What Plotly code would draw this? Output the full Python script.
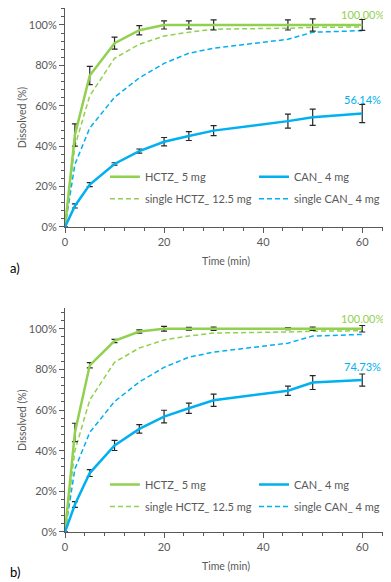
import plotly.graph_objects as go

# sampling times (min)
time = [0, 2, 5, 10, 15, 20, 25, 30, 45, 50, 60]

# panel a)
hctz_a = [0, 45.5, 75, 91, 97.4, 100, 100, 100, 100, 100, 100]
hctz_a_err = [0, 5.5, 4.5, 3, 2.3, 2, 2, 2.5, 2.5, 3, 2.7]
can_a = [0, 10.4, 21, 31.2, 37.6, 42.2, 45, 47.7, 52.4, 54.3, 56.14]
can_a_err = [0, 1, 1, 0.6, 1, 2.1, 2.2, 2.5, 3.5, 4, 4.5]

# panel b)
hctz_b = [0, 49, 82, 94, 98.6, 100, 100, 100, 100, 100, 100]
hctz_b_err = [0, 4.5, 1.3, 0.8, 0.8, 1.2, 0.7, 0.8, 0.5, 0.8, 1.6]
can_b = [0, 13.5, 29, 42.6, 50.7, 56.8, 60.9, 64.8, 69.5, 73.5, 74.73]
can_b_err = [0, 1.4, 1.7, 2.5, 2.1, 3.1, 2.5, 3, 2.3, 3.4, 3]

# single-drug reference profiles (same in both panels)
single_hctz = [0, 40, 65, 83.5, 90.5, 94.5, 96.4, 97.9, 98.4, 98.8, 99]
single_can = [0, 31, 49, 64.2, 73.8, 81, 86, 88.5, 92.9, 96.4, 97.2]

names = ['HCTZ_ 5 mg', 'CAN_ 4 mg', 'single HCTZ_ 12.5 mg', 'single CAN_ 4 mg']
y_ticks = [0, 20, 40, 60, 80, 100]
y_ticktext = ['0%', '20%', '40%', '60%', '80%', '100%']
panel_labels = ['a)', 'b)']

GREEN = '#92D050'
BLUE = '#00B0F0'
TXT = '#595959'
FONT = 'Lato'
DASH = '5px,3px'

fig = go.Figure()

# (data..., x axis, y axis, legend for green column, legend for blue column)
panels = [
    (hctz_a, hctz_a_err, can_a, can_a_err, 'x', 'y', 'legend', 'legend3'),
    (hctz_b, hctz_b_err, can_b, can_b_err, 'x2', 'y2', 'legend2', 'legend4'),
]

for hctz, hctz_err, can, can_err, xa, ya, leg_g, leg_b in panels:
    err_style = dict(type='data', visible=True, color='#262626', thickness=1.2, width=3)
    fig.add_trace(go.Scatter(x=time, y=single_hctz, mode='lines', name=names[2],
                             line=dict(color=GREEN, width=1.5, dash=DASH),
                             xaxis=xa, yaxis=ya, legend=leg_g, legendrank=2, legendgroup='s'))
    fig.add_trace(go.Scatter(x=time, y=single_can, mode='lines', name=names[3],
                             line=dict(color=BLUE, width=1.5, dash=DASH),
                             xaxis=xa, yaxis=ya, legend=leg_b, legendrank=2, legendgroup='s'))
    fig.add_trace(go.Scatter(x=time, y=hctz, mode='lines', name=names[0],
                             line=dict(color=GREEN, width=2.5),
                             error_y=dict(array=hctz_err, **err_style),
                             xaxis=xa, yaxis=ya, legend=leg_g, legendrank=1, legendgroup='m'))
    fig.add_trace(go.Scatter(x=time, y=can, mode='lines', name=names[1],
                             line=dict(color=BLUE, width=2.5),
                             error_y=dict(array=can_err, **err_style),
                             xaxis=xa, yaxis=ya, legend=leg_b, legendrank=1, legendgroup='m'))
    # final values
    fig.add_annotation(x=time[-1], y=hctz[-1], xref=xa, yref=ya,
                       text=f'{hctz[-1]:.2f}%', showarrow=False, yshift=10,
                       font=dict(color=GREEN, size=11, family=FONT))
    fig.add_annotation(x=time[-1], y=can[-1], xref=xa, yref=ya,
                       text=f'{can[-1]:.2f}%', showarrow=False, yshift=14,
                       font=dict(color=BLUE, size=11, family=FONT))

xaxis_style = dict(range=[0, 65], dtick=20, ticks='outside', ticklen=5, tickcolor=TXT,
                   showline=True, linecolor=TXT, linewidth=1, showgrid=False, zeroline=False,
                   minor=dict(dtick=4, ticks='outside', ticklen=3, tickcolor=TXT),
                   tickfont=dict(size=11, color=TXT, family=FONT),
                   title=dict(text='Time (min)', font=dict(size=10.5, color=TXT, family=FONT), standoff=10))
yaxis_style = dict(tickvals=y_ticks, ticktext=y_ticktext,
                   ticks='outside', ticklen=5, tickcolor=TXT,
                   showline=True, linecolor=TXT, linewidth=1, showgrid=False, zeroline=False,
                   minor=dict(dtick=4, ticks='outside', ticklen=3, tickcolor=TXT),
                   tickfont=dict(size=11, color=TXT, family=FONT),
                   title=dict(text='Dissolved (%)', font=dict(size=10.5, color=TXT, family=FONT), standoff=0))

legend_style = dict(orientation='v', bgcolor='rgba(0,0,0,0)',
                    font=dict(size=11, color=TXT, family=FONT),
                    xanchor='left', yanchor='top', tracegroupgap=3)

fig.update_layout(
    width=383, height=574,
    margin=dict(l=57, r=4, t=0, b=50),
    paper_bgcolor='white', plot_bgcolor='white',
    font=dict(family=FONT, color=TXT),
    xaxis=dict(domain=[0, 1], anchor='y', **xaxis_style),
    yaxis=dict(domain=[0.5821, 1], anchor='x', range=[0, 108.4], **yaxis_style),
    xaxis2=dict(domain=[0, 1], anchor='y2', **xaxis_style),
    yaxis2=dict(domain=[0, 0.4267], anchor='x2', range=[0, 110], **yaxis_style),
    legend=dict(x=0.124, y=0.7056, **legend_style),
    legend3=dict(x=0.587, y=0.7056, **legend_style),
    legend2=dict(x=0.124, y=0.1183, **legend_style),
    legend4=dict(x=0.587, y=0.1183, **legend_style),
)

for label, ypos in zip(panel_labels, [0.504, -0.076]):
    fig.add_annotation(x=-0.177, y=ypos, xref='paper', yref='paper', text=label,
                       showarrow=False, xanchor='left', yanchor='middle',
                       font=dict(size=13, color='#000000', family=FONT))

fig.write_html("out.html")
